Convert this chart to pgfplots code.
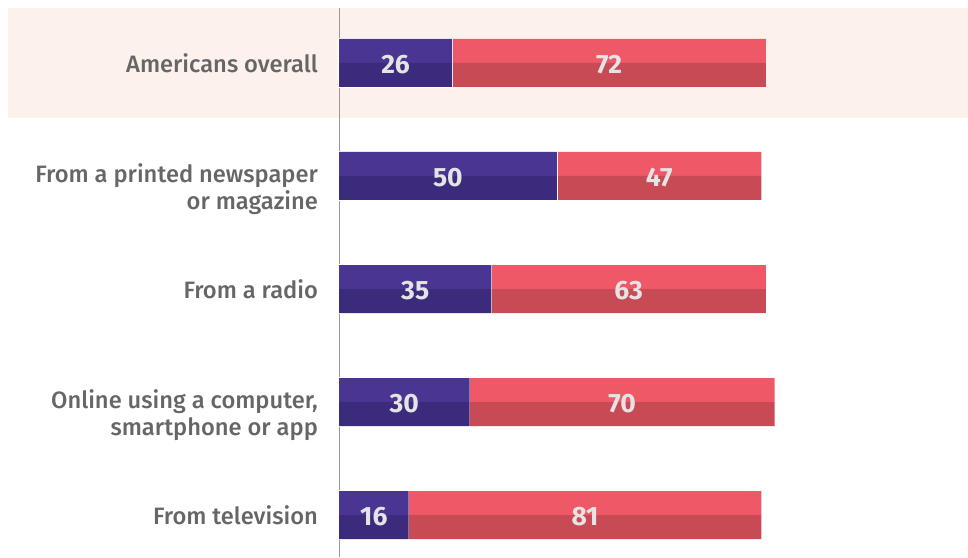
\documentclass[border=0pt]{standalone}
\usepackage{pgfplots}
\pgfplotsset{compat=1.18}
\usepackage{pgfplotstable}
\usepackage{fontspec}
\setmainfont{Fira Sans}
\newfontfamily\labfont{Fira Sans Medium}
\definecolor{blueL}{HTML}{4A3592}
\definecolor{blueD}{HTML}{3C2A7C}
\definecolor{redL}{HTML}{EF5867}
\definecolor{redD}{HTML}{C84A55}
\definecolor{band}{HTML}{FDF1EC}
\definecolor{labgray}{HTML}{666666}
\definecolor{numgray}{HTML}{E4E4E4}
\pgfplotstableread{
y blue red
494 26 72
381 50 47
268 35 63
155 30 70
42 16 81
}\data
\begin{document}
\begin{tikzpicture}
\begin{axis}[
  width=968pt, height=557pt, scale only axis,
  xmin=-77.84, xmax=144.43, ymin=0, ymax=557,
  hide axis, clip=false,
  bar width=24pt,
  /pgf/number format/assume math mode=true,
]
\path (rel axis cs:0,0) rectangle (rel axis cs:1,1);
\fill[band] (axis cs:-76.1,439) rectangle (axis cs:144.43,549);
\draw[black!40, line width=0.8pt] (axis cs:0,0) -- (axis cs:0,549);
\addplot[xbar, bar shift=12pt, fill=redL, draw=none] table[x expr=\thisrow{blue}+\thisrow{red}, y=y]{\data};
\addplot[xbar, bar shift=-12pt, fill=redD, draw=none] table[x expr=\thisrow{blue}+\thisrow{red}, y=y]{\data};
\addplot[xbar, bar shift=0pt, bar width=48pt, fill=white, draw=white, line width=1.6pt] table[x=blue, y=y]{\data};
\addplot[xbar, bar shift=12pt, fill=blueL, draw=none] table[x=blue, y=y]{\data};
\addplot[xbar, bar shift=-12pt, fill=blueD, draw=none] table[x=blue, y=y]{\data};
% value labels
\addplot[draw=none, mark=none, nodes near coords, point meta=explicit,
  nodes near coords style={anchor=center, yshift=-2pt, font=\fontsize{26.5}{30}\selectfont\bfseries, text=numgray}]
  table[x expr=\thisrow{blue}/2, y=y, meta=blue]{\data};
\addplot[draw=none, mark=none, nodes near coords, point meta=explicit,
  nodes near coords style={anchor=center, yshift=-2pt, font=\fontsize{26.5}{30}\selectfont\bfseries, text=numgray}]
  table[x expr=\thisrow{blue}+\thisrow{red}/2, y=y, meta=red]{\data};
% category labels
\addplot[draw=none, mark=none, nodes near coords, point meta=explicit symbolic,
  nodes near coords style={anchor=east, inner sep=0pt, font=\labfont\fontsize{23.7}{27}\selectfont, text=labgray}]
  coordinates {
  (-4.8,494) [Americans overall]
  (-4.8,381) [From a printed newspaper]
  (-4.8,354) [or magazine]
  (-4.8,268) [From a radio]
  (-4.8,155) [Online using a computer,]
  (-4.8,128) [smartphone or app]
  (-4.8,42) [From television]
  };
\end{axis}
\end{tikzpicture}
\end{document}
